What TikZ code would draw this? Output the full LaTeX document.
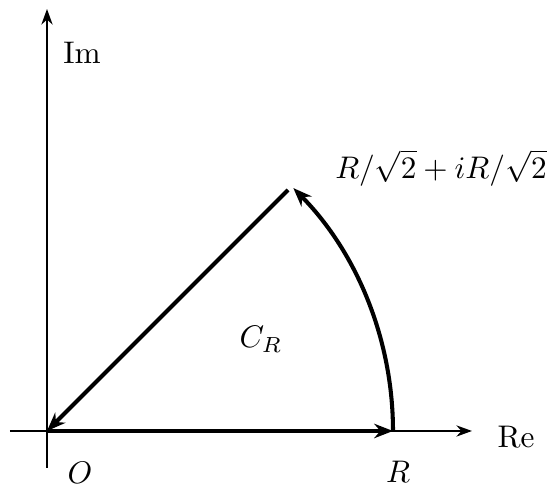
\documentclass[tikz,border=0pt]{standalone}
\usetikzlibrary{arrows.meta}
\begin{document}
\begin{tikzpicture}[x=0.32pt,y=0.32pt,
  axis/.style={line width=0.5pt,-{Stealth[length=5pt,width=3.6pt]}},
  pathline/.style={line width=1.3pt,-{Stealth[length=6pt,width=4.6pt]}},
  lbl/.style={inner sep=0pt}]
\useasboundingbox (0,0) rectangle (551,487);
\coordinate (O) at (47,56);
\coordinate (R) at (393,56);
\coordinate (P) at (291.7,300.7);
\coordinate (Ps) at (288,297);
\coordinate (xl) at (10,56);
\coordinate (xr) at (472,56);
\coordinate (yb) at (47,19);
\coordinate (yt) at (47,478);
\draw[axis] (xl) -- (xr);
\draw[axis] (yb) -- (yt);
\draw[pathline] (O) -- (R);
\draw[pathline] (R) arc[start angle=0,end angle=44.6,radius=110.72pt];
\draw[pathline] (Ps) -- (O);
\node[lbl] (im) at (82,434) {Im};
\node[lbl] (re) at (516,50) {Re};
\node[lbl] (o) at (80,14) {$O$};
\node[lbl] (r) at (398,15) {$R$};
\node[lbl] (c) at (261,148) {$C_R$};
\node[lbl] (p) at (441,319) {$R/\sqrt{2}+iR/\sqrt{2}$};
\end{tikzpicture}
\end{document}
